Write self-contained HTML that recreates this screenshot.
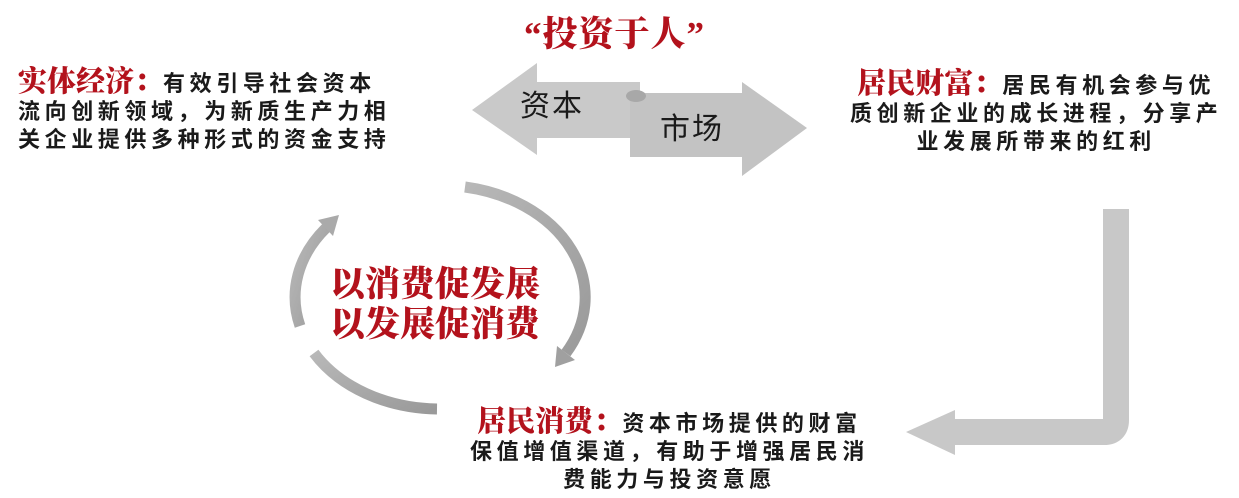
<!DOCTYPE html>
<html><head><meta charset="utf-8"><style>
html,body{margin:0;padding:0;background:#fff;}
#c{position:relative;width:1239px;height:498px;overflow:hidden;font-family:"Liberation Sans","Noto Sans CJK SC",sans-serif;}
.t{position:absolute;white-space:nowrap;color:#1a1a1a;font-size:22px;font-weight:bold;letter-spacing:4.6px;line-height:28px;}
.h{color:#b3121c;font-family:"Liberation Serif","Noto Serif CJK SC",serif;font-weight:900;font-size:29px;letter-spacing:0px;}
.ctr{text-align:center;}
</style></head><body><div id="c">
<svg width="1239" height="498" style="position:absolute;left:0;top:0">
<defs><linearGradient id="g" x1="0" y1="0" x2="1" y2="1"><stop offset="0" stop-color="#b8b8b8"/><stop offset="1" stop-color="#9a9a9a"/></linearGradient></defs>
<polygon points="472,110 537,63 537,82 640,82 640,138 537,138 537,155" fill="#c9c9c9"/>
<polygon points="630,93 742,93 742,82 807,128 742,176 742,157 630,157" fill="#c3c3c3"/>
<ellipse cx="636" cy="96" rx="10" ry="6" fill="#a8a8a8"/>
<path d="M1116,209 V420 Q1116,432 1104,432 H953" fill="none" stroke="#c8c8c8" stroke-width="26"/>
<polygon points="906,432 955,410 955,455" fill="#c8c8c8"/>
<path d="M465,187 A145,112 0 0 1 566,353" fill="none" stroke="url(#g)" stroke-width="11"/>
<polygon points="555,367 575,360 557,346" fill="#a0a0a0"/>
<path d="M300,326 A145,112 0 0 1 326,228" fill="none" stroke="url(#g)" stroke-width="11"/>
<polygon points="339,215 333,236 318,220" fill="#aaa"/>
<path d="M314,353 A145,112 0 0 0 437,409" fill="none" stroke="url(#g)" stroke-width="11"/>
</svg>
<div class="t h" style="left:524px;top:15px;font-size:35px;line-height:40px;letter-spacing:1px">“投资于人”</div>
<div class="t" style="left:520px;top:90px;font-size:30px;font-weight:normal;letter-spacing:2px;line-height:34px">资本</div>
<div class="t" style="left:660px;top:113px;font-size:30px;font-weight:normal;letter-spacing:2px;line-height:34px">市场</div>
<div class="t" style="left:18px;top:68px"><span class="h">实体经济：</span>有效引导社会资本<br>流向创新领域，为新质生产力相<br>关企业提供多种形式的资金支持</div>
<div class="t ctr" style="left:850px;top:70px"><span class="h">居民财富：</span>居民有机会参与优<br>质创新企业的成长进程，分享产<br>业发展所带来的红利</div>
<div class="t ctr" style="left:470px;top:408px"><span class="h">居民消费：</span>资本市场提供的财富<br>保值增值渠道，有助于增强居民消<br>费能力与投资意愿</div>
<div class="t h" style="left:330px;top:265px;font-size:35px;line-height:40px;letter-spacing:0px">以消费促发展<br>以发展促消费</div>
</div></body></html>
